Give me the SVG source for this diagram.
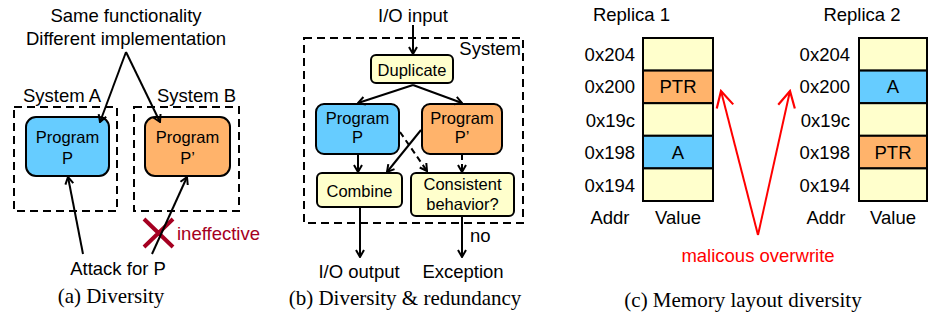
<svg xmlns="http://www.w3.org/2000/svg" width="929" height="320" viewBox="0 0 929 320">
<defs>
<style>
.t{font-family:"Liberation Sans",Arial,sans-serif;font-size:18.5px;fill:#000}
.s{font-family:"Liberation Sans",Arial,sans-serif;font-size:16.5px;fill:#000}
.c{font-family:"Liberation Serif","Times New Roman",serif;font-size:21px;fill:#000}
.m{text-anchor:middle}
.e{text-anchor:end}
.box{stroke:#000;stroke-width:2}
.blue{fill:#66CCFF}
.orange{fill:#FFB36B}
.yellow{fill:#FFFFCC}
.dash{fill:none;stroke:#000;stroke-width:2;stroke-dasharray:8 5}
.ln{fill:none;stroke:#000;stroke-width:2;marker-end:url(#ah)}
.dl{fill:none;stroke:#000;stroke-width:2;stroke-dasharray:6 4;marker-end:url(#ah)}
.rl{fill:none;stroke:#FF0000;stroke-width:2;marker-end:url(#rah)}
.cell{stroke:#000;stroke-width:2}
</style>
<marker id="ah" viewBox="0 0 10 10" refX="9" refY="5" markerWidth="10" markerHeight="10" markerUnits="userSpaceOnUse" orient="auto">
<path d="M2,1 L9,5 L2,9" fill="none" stroke="#000" stroke-width="2"/>
</marker>
<marker id="rah" viewBox="0 0 20 20" refX="18" refY="10" markerWidth="20" markerHeight="20" markerUnits="userSpaceOnUse" orient="auto">
<path d="M2,1.5 L18,10 L2,18.5" fill="none" stroke="#FF0000" stroke-width="2.2"/>
</marker>
</defs>
<rect width="929" height="320" fill="#fff"/>

<!-- Panel (a) -->
<g id="a-label">
<text class="t m" x="126" y="22">Same functionality</text>
<text class="t m" x="126" y="45">Different implementation</text>
</g>
<g id="systemA">
<rect class="dash" x="14" y="107" width="103" height="104"/>
<text class="t" x="23" y="102">System A</text>
</g>
<g id="systemB">
<rect class="dash" x="134" y="107" width="105" height="104"/>
<text class="t" x="157" y="102">System B</text>
</g>
<g id="a-programP">
<rect class="box blue" x="26" y="117" width="83" height="59" rx="10"/>
<text class="s m" x="67.5" y="143">Program</text>
<text class="s m" x="67.5" y="164">P</text>
</g>
<g id="a-programP2">
<rect class="box orange" x="145" y="117" width="85" height="59" rx="10"/>
<text class="s m" x="187.5" y="143">Program</text>
<text class="s m" x="187.5" y="164">P’</text>
</g>
<g id="a-attack">
<text class="t m" x="118" y="275">Attack for P</text>
</g>
<g id="a-ineffective">
<path d="M144,219 L173,247 M173,219 L144,247" stroke="#A50021" stroke-width="4" fill="none"/>
<text class="t" x="177" y="240" style="fill:#A50021">ineffective</text>
</g>
<g id="a-connectors">
<path class="ln" d="M126,52 L100,122"/>
<path class="ln" d="M126,52 L160,122"/>
<path class="ln" d="M83,254 L68,177"/>
<path class="ln" d="M152,254 L187,177"/>
</g>
<text class="c m" x="111" y="303">(a) Diversity</text>

<!-- Panel (b) -->
<g id="b-input"><text class="t m" x="413" y="22">I/O input</text></g>
<g id="b-system">
<rect class="dash" x="304" y="38" width="219" height="185"/>
<text class="t e" x="521" y="55">System</text>
</g>
<g id="b-duplicate">
<rect class="box yellow" x="371" y="55" width="82" height="28" rx="5"/>
<text class="s m" x="412" y="76">Duplicate</text>
</g>
<g id="b-programP">
<rect class="box blue" x="316" y="104" width="83" height="50" rx="8"/>
<text class="s m" x="357.5" y="124">Program</text>
<text class="s m" x="357.5" y="143">P</text>
</g>
<g id="b-programP2">
<rect class="box orange" x="422" y="104" width="80" height="50" rx="8"/>
<text class="s m" x="462" y="124">Program</text>
<text class="s m" x="462" y="143">P’</text>
</g>
<g id="b-combine">
<rect class="box yellow" x="317" y="173" width="85" height="34" rx="5"/>
<text class="s m" x="359.5" y="197">Combine</text>
</g>
<g id="b-consistent">
<rect class="box yellow" x="411" y="173" width="103" height="43" rx="5"/>
<text class="s m" x="462.5" y="190">Consistent</text>
<text class="s m" x="462.5" y="210">behavior?</text>
</g>
<g id="b-output"><text class="t m" x="359" y="278">I/O output</text></g>
<g id="b-exception"><text class="t m" x="463" y="278">Exception</text></g>
<g id="b-connectors">
<path class="ln" d="M413,25 L413,54"/>
<path class="ln" d="M413,85 L358,103"/>
<path class="ln" d="M413,85 L462,103"/>
<path class="ln" d="M358,154 L358,172"/>
<path class="ln" d="M421,130 L387,172"/>
<path class="dl" d="M400,132 L427,171"/>
<path class="dl" d="M462,154 L462,172"/>
<path class="ln" d="M360,207 L360,257"/>
<path class="ln" d="M462,216 L462,257"/>
<text class="t" x="470" y="242">no</text>
</g>
<text class="c m" x="405" y="305">(b) Diversity &amp; redundancy</text>

<!-- Panel (c) -->
<g id="replica1">
<text class="t m" x="631.5" y="21">Replica 1</text>
<rect class="cell yellow" x="643" y="38" width="70" height="32.6"/>
<rect class="cell orange" x="643" y="70.6" width="70" height="32.6"/>
<rect class="cell yellow" x="643" y="103.2" width="70" height="32.6"/>
<rect class="cell blue" x="643" y="135.8" width="70" height="32.6"/>
<rect class="cell yellow" x="643" y="168.4" width="70" height="32.6"/>
<text class="t m" x="678" y="93">PTR</text>
<text class="t m" x="678" y="159">A</text>
<text class="t e" x="635" y="61">0x204</text>
<text class="t e" x="635" y="93">0x200</text>
<text class="t e" x="635" y="127">0x19c</text>
<text class="t e" x="635" y="159">0x198</text>
<text class="t e" x="635" y="192">0x194</text>
<text class="t m" x="610" y="224">Addr</text>
<text class="t m" x="678" y="224">Value</text>
</g>
<g id="replica2">
<text class="t m" x="862" y="21">Replica 2</text>
<rect class="cell yellow" x="859" y="38" width="68" height="32.6"/>
<rect class="cell blue" x="859" y="70.6" width="68" height="32.6"/>
<rect class="cell yellow" x="859" y="103.2" width="68" height="32.6"/>
<rect class="cell orange" x="859" y="135.8" width="68" height="32.6"/>
<rect class="cell yellow" x="859" y="168.4" width="68" height="32.6"/>
<text class="t m" x="893" y="93">A</text>
<text class="t m" x="893" y="159">PTR</text>
<text class="t e" x="850" y="61">0x204</text>
<text class="t e" x="850" y="93">0x200</text>
<text class="t e" x="850" y="127">0x19c</text>
<text class="t e" x="850" y="159">0x198</text>
<text class="t e" x="850" y="192">0x194</text>
<text class="t m" x="826" y="224">Addr</text>
<text class="t m" x="893" y="224">Value</text>
</g>
<g id="c-connectors">
<path class="rl" d="M758,235 L721,91"/>
<path class="rl" d="M758,235 L790,91"/>
<text class="t m" x="758" y="262" style="fill:#FF0000">malicous overwrite</text>
</g>
<text class="c m" x="743" y="307">(c) Memory layout diversity</text>
</svg>
